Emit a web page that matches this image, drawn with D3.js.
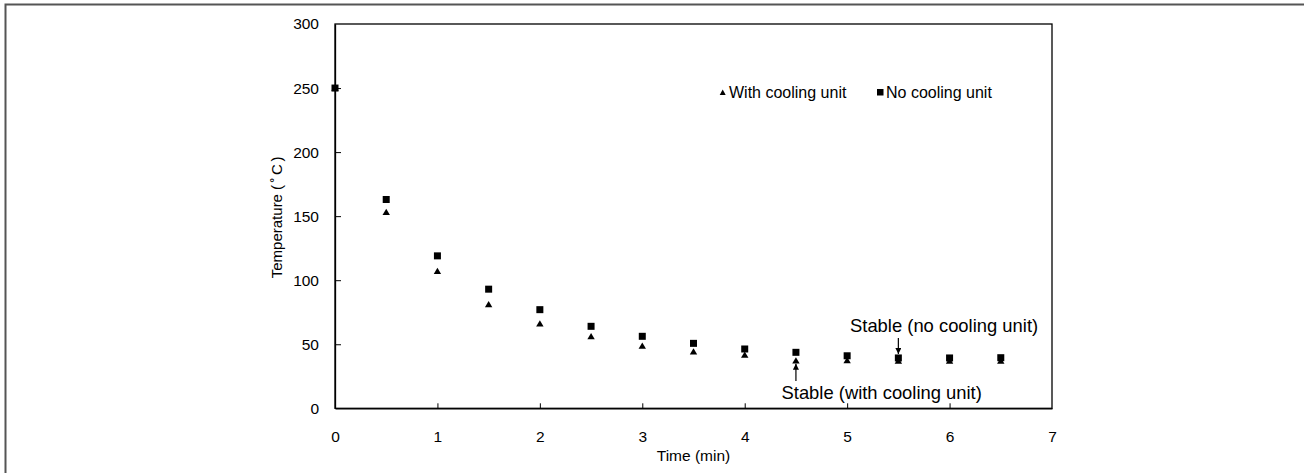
<!DOCTYPE html>
<html>
<head>
<meta charset="utf-8">
<script src="https://cdn.jsdelivr.net/npm/d3@7"></script>
<style>
  html, body { margin: 0; padding: 0; background: #fff; }
  svg { display: block; font-family: "Liberation Sans", Arial, sans-serif; }
</style>
</head>
<body>
<svg id="chart" width="1304" height="473"></svg>
<script>
// ---- data ----
const times = [0, 0.5, 1, 1.5, 2, 2.5, 3, 3.5, 4, 4.5, 5, 5.5, 6, 6.5];
const withCooling = [250, 153, 107, 81, 66, 56, 48.6, 44.2, 41.6, 37.2, 37.3, 37, 37, 37];
const noCooling   = [250, 163, 119, 93, 77, 64, 56.2, 50.7, 46.3, 43.7, 41, 39.3, 39.3, 39.5];
const xTicks = [0, 1, 2, 3, 4, 5, 6, 7];
const yTicks = [0, 50, 100, 150, 200, 250, 300];
const seriesNames = ["With cooling unit", "No cooling unit"];
const annotations = [
  { label: "Stable (no cooling unit)", t: 5.5, series: "no" },
  { label: "Stable (with cooling unit)", t: 4.5, series: "with" }
];

const svg = d3.select("#chart");
const x = d3.scaleLinear().domain([0, 7]).range([335, 1052]);
const y = d3.scaleLinear().domain([0, 300]).range([408.3, 24]);

// outer frame (top and left visible)
svg.append("path")
  .attr("d", "M5.5,473 V4.5 H1304")
  .attr("fill", "none").attr("stroke", "#555").attr("stroke-width", 2);

// plot box
svg.append("rect")
  .attr("x", x(0)).attr("y", y(300))
  .attr("width", x(7) - x(0)).attr("height", y(0) - y(300))
  .attr("fill", "none").attr("stroke", "#000").attr("stroke-width", 1.3);

// axes (inward ticks)
const xAxis = svg.append("g").attr("transform", `translate(0,${y(0)})`)
  .call(d3.axisBottom(x).tickValues(xTicks).tickFormat(d3.format("d")).tickSizeInner(-5).tickSizeOuter(0).tickPadding(23));
const yAxis = svg.append("g").attr("transform", `translate(${x(0)},0)`)
  .call(d3.axisLeft(y).tickValues(yTicks).tickSizeInner(-6).tickSizeOuter(0).tickPadding(16));
[xAxis, yAxis].forEach(g => {
  g.select(".domain").attr("stroke", "#000").attr("stroke-width", 1.3);
  g.selectAll(".tick line").attr("stroke", "#000").attr("stroke-width", 1);
  g.selectAll(".tick text").attr("fill", "#000").attr("font-size", "15.5px")
    .attr("font-family", "Liberation Sans, Arial, sans-serif");
});
xAxis.selectAll(".tick").filter(d => d === 0 || d === 7).select("line").remove();
yAxis.selectAll(".tick").filter(d => d === 0 || d === 300).select("line").remove();

// axis titles
svg.append("text").attr("x", (x(0) + x(7)) / 2).attr("y", 461)
  .attr("text-anchor", "middle").attr("font-size", "15.5px").text("Time (min)");
const yt = svg.append("text")
  .attr("transform", `translate(282,${(y(0) + y(300)) / 2}) rotate(-90)`)
  .attr("text-anchor", "middle").attr("font-size", "15px");
yt.append("tspan").text("Temperature ");
yt.append("tspan").attr("letter-spacing", "2.5px").text("(˚C)");

// markers
const triData = times.map((t, i) => ({ t, v: withCooling[i] }));
const sqData = times.map((t, i) => ({ t, v: noCooling[i] }));

svg.append("g").selectAll("path").data(triData).join("path")
  .attr("d", "M0,-3.5 L3.7,2.8 L-3.7,2.8 Z")
  .attr("transform", d => `translate(${x(d.t)},${y(d.v)})`)
  .attr("fill", "#000");
svg.append("g").selectAll("rect").data(sqData).join("rect")
  .attr("x", d => x(d.t) - 3.5).attr("y", d => y(d.v) - 3.5)
  .attr("width", 7).attr("height", 7).attr("fill", "#000");

// legend
const lg = svg.append("g");
lg.append("path").attr("d", "M0,-3 L3,2.5 L-3,2.5 Z")
  .attr("transform", "translate(722.7,92.5)").attr("fill", "#000");
lg.append("text").attr("x", 729).attr("y", 97.5).attr("font-size", "16px").text(seriesNames[0]);
lg.append("rect").attr("x", 877).attr("y", 89).attr("width", 6.5).attr("height", 6.5).attr("fill", "#000");
lg.append("text").attr("x", 886).attr("y", 97.5).attr("font-size", "16px").text(seriesNames[1]);

// annotations with arrows
const defs = svg.append("defs");
defs.append("marker").attr("id", "ah").attr("viewBox", "0 0 10 10")
  .attr("refX", 10).attr("refY", 5).attr("markerWidth", 6).attr("markerHeight", 6)
  .attr("markerUnits", "userSpaceOnUse").attr("orient", "auto")
  .append("path").attr("d", "M0,0 L10,5 L0,10 Z").attr("fill", "#000");

const a1 = annotations[0];
const i1 = times.indexOf(a1.t);
svg.append("line").attr("x1", x(a1.t)).attr("x2", x(a1.t))
  .attr("y1", 338).attr("y2", y(noCooling[i1]) - 4)
  .attr("stroke", "#000").attr("stroke-width", 1.2).attr("marker-end", "url(#ah)");
svg.append("text").attr("x", 850).attr("y", 332).attr("font-size", "18.4px").text(a1.label);

const a2 = annotations[1];
const i2 = times.indexOf(a2.t);
svg.append("line").attr("x1", x(a2.t)).attr("x2", x(a2.t))
  .attr("y1", 381).attr("y2", y(withCooling[i2]) + 3)
  .attr("stroke", "#000").attr("stroke-width", 1.2).attr("marker-end", "url(#ah)");
svg.append("text").attr("x", 781.5).attr("y", 399).attr("font-size", "18.4px").text(a2.label);
</script>
</body>
</html>
